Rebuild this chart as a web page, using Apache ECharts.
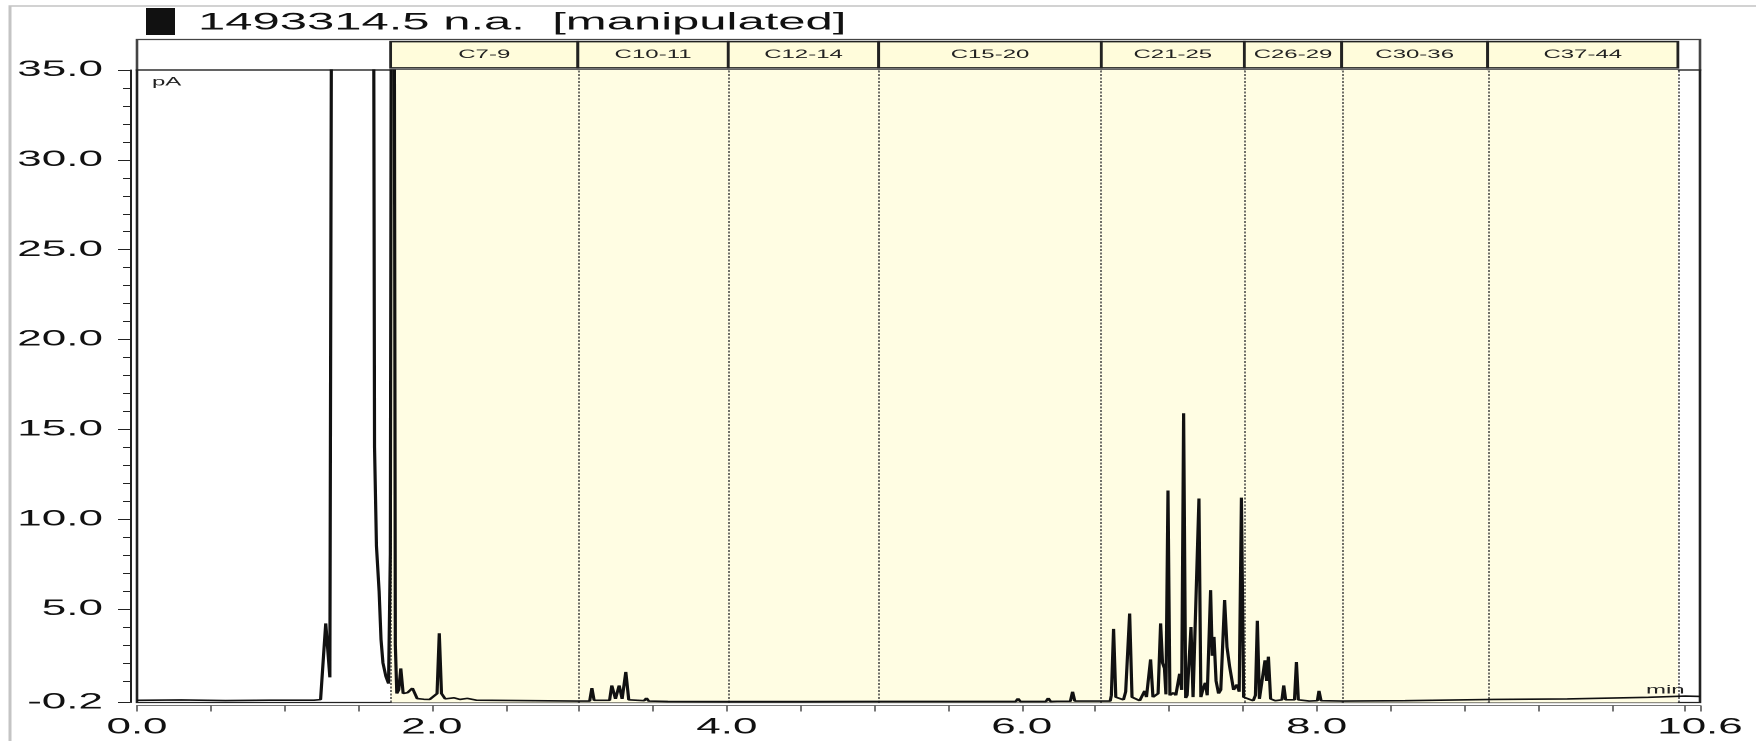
<!DOCTYPE html>
<html>
<head>
<meta charset="utf-8">
<script src="https://cdn.jsdelivr.net/npm/echarts@6/dist/echarts.min.js"></script>
<style>
html, body { margin: 0; padding: 0; background: #ffffff; overflow: hidden; }
#stage { width: 1756px; height: 741px; overflow: hidden; position: relative; background: #ffffff; }
#chart { width: 878px; height: 741px; transform: scaleX(2); transform-origin: 0 0; }
</style>
</head>
<body>
<div id="stage"><div id="chart"></div></div>
<script>
// ---------------- data ----------------
const TITLE_TEXT = '1493314.5 n.a.  [manipulated]';
const Y_UNIT = 'pA';
const X_UNIT = 'min';

// carbon-number windows (retention time edges, min)
const BAND_NAMES = ['C7-9', 'C10-11', 'C12-14', 'C15-20', 'C21-25', 'C26-29', 'C30-36', 'C37-44'];
const BAND_EDGES = [1.72, 2.99, 4.01, 5.03, 6.54, 7.51, 8.17, 9.16, 10.45];

// tick labels
const Y_TICK_VALUES = [-0.2, 5, 10, 15, 20, 25, 30, 35];
const X_LABEL_VALUES = [0, 2, 4, 6, 8, 10.6];

// chromatogram trace: retention time (min) and signal (pA)
const TIME = [
  0.00, 0.30, 0.60, 0.90, 1.20, 1.245, 1.265, 1.280, 1.295, 1.308,
  1.325, 1.40, 1.55, 1.600, 1.611, 1.624, 1.642, 1.655, 1.668, 1.688,
  1.706, 1.718, 1.735, 1.752, 1.762, 1.775, 1.789, 1.805, 1.835, 1.868,
  1.90, 1.945, 1.96, 1.985, 2.035, 2.050, 2.065, 2.09, 2.15, 2.19,
  2.24, 2.30, 2.60, 2.98, 3.07, 3.085, 3.10, 3.205, 3.220, 3.245,
  3.270, 3.290, 3.315, 3.335, 3.44, 3.455, 3.47, 3.60, 4.00, 4.50,
  5.00, 5.44, 5.45, 5.46, 5.75, 5.76, 5.77, 5.96, 5.975, 5.99,
  6.165, 6.18, 6.195, 6.24, 6.25, 6.26, 6.33, 6.345, 6.36, 6.44,
  6.45, 6.46, 6.60, 6.608, 6.623, 6.638, 6.690, 6.705, 6.715, 6.732,
  6.748, 6.800, 6.834, 6.846, 6.874, 6.890, 6.925, 6.942, 6.955, 6.968,
  6.978, 6.992, 7.005, 7.015, 7.030, 7.045, 7.071, 7.085, 7.098, 7.112,
  7.122, 7.148, 7.162, 7.172, 7.202, 7.215, 7.228, 7.245, 7.258, 7.281,
  7.292, 7.304, 7.318, 7.335, 7.350, 7.376, 7.392, 7.410, 7.437, 7.460,
  7.475, 7.490, 7.505, 7.530, 7.570, 7.585, 7.598, 7.612, 7.630, 7.650,
  7.661, 7.673, 7.688, 7.720, 7.765, 7.777, 7.790, 7.850, 7.863, 7.876,
  7.950, 8.005, 8.016, 8.030, 8.18, 8.60, 9.20, 9.70, 10.25, 10.50,
  10.60
];
const SIGNAL = [
  -0.08, -0.06, -0.09, -0.07, -0.07, -0.04, 2.4, 4.2, 2.6, 1.2,
  60, 95, 95, 60, 14, 8.5, 6.0, 3.3, 2.0, 1.25,
  0.85, 8, 90, 3, 0.3, 0.5, 1.7, 0.3, 0.35, 0.6,
  0.02, -0.02, 0.05, -0.03, 0.3, 3.65, 0.3, 0.0, 0.06, -0.03,
  0.03, -0.07, -0.09, -0.12, -0.12, 0.6, -0.08, -0.08, 0.75, 0.0,
  0.75, 0.0, 1.5, -0.05, -0.1, 0.05, -0.12, -0.14, -0.15, -0.15,
  -0.14, -0.14, -0.08, -0.14, -0.14, -0.07, -0.14, -0.14, 0.02, -0.14,
  -0.14, 0.04, -0.14, -0.13, -0.05, -0.13, -0.13, 0.4, -0.12, -0.12,
  -0.06, -0.12, -0.12, 0.2, 3.9, 0.1, -0.05, 0.4, 0.3, 4.75,
  0.1, -0.1, 0.45, 0.1, 2.2, 0.1, 0.3, 4.2, 2.0, 1.7,
  0.25, 11.6, 0.2, 0.15, 0.35, 0.2, 1.4, 0.5, 15.9, 0.05,
  0.2, 4.0, 0.1, 0.2, 11.15, 0.1, 0.5, 0.9, 0.2, 6.05,
  2.4, 3.45, 1.0, 0.3, 0.5, 5.5, 2.9, 1.8, 0.5, 0.8,
  0.4, 11.2, 0.1, 0.05, -0.1, 0.2, 4.35, 0.0, 0.05, 2.15,
  1.0, 2.35, 0.0, -0.1, -0.05, 0.75, -0.05, -0.05, 2.05, -0.05,
  -0.12, -0.1, 0.45, -0.1, -0.12, -0.1, -0.03, 0.0, 0.09, 0.16,
  0.14
];

// ---------------- chart ----------------
const FONT = '"Liberation Sans", Arial, Helvetica, sans-serif';
const chart = echarts.init(document.getElementById('chart'), null, { renderer: 'canvas', devicePixelRatio: 2 });

const trace = TIME.map((t, i) => [t, SIGNAL[i]]);
const bandAreas = BAND_NAMES.map((n, i) => [{ xAxis: BAND_EDGES[i] }, { xAxis: BAND_EDGES[i + 1] }]);
const headerBoxes = BAND_NAMES.map((n, i) => [
  { name: n, xAxis: BAND_EDGES[i], yAxis: 0.07 },
  { xAxis: BAND_EDGES[i + 1], yAxis: 0.93 }
]);
const dividers = BAND_EDGES.map(e => ({ xAxis: e }));
const xMax = X_LABEL_VALUES[X_LABEL_VALUES.length - 1];

const option = {
  animation: false,
  backgroundColor: '#ffffff',
  grid: [
    { left: 68.5, right: 28, top: 39.5, height: 30.5, show: true, borderColor: '#444', borderWidth: 1.3, backgroundColor: 'transparent' },
    { left: 68.5, right: 28, top: 70, bottom: 38.5, show: true, borderColor: '#222', borderWidth: 1.3, backgroundColor: 'transparent' }
  ],
  xAxis: [
    { gridIndex: 0, type: 'value', min: 0, max: xMax, show: false },
    {
      gridIndex: 1, type: 'value', min: 0, max: xMax, interval: 0.5, position: 'bottom', offset: 3,
      axisLine: { show: true, onZero: false, lineStyle: { color: '#777', width: 1 } },
      axisTick: { show: true, length: 6, lineStyle: { color: '#555', width: 0.8 } },
      axisLabel: {
        margin: 11, fontSize: 22, color: '#111', fontFamily: FONT,
        formatter: v => X_LABEL_VALUES.some(x => Math.abs(x - v) < 1e-6) ? v.toFixed(1) : ''
      },
      splitLine: { show: false }
    }
  ],
  yAxis: [
    { gridIndex: 0, type: 'value', min: 0, max: 1, show: false },
    {
      gridIndex: 1, type: 'value', min: Y_TICK_VALUES[0], max: Y_TICK_VALUES[Y_TICK_VALUES.length - 1],
      splitNumber: 7, offset: 3.5,
      axisLine: { show: true, onZero: false, lineStyle: { color: '#222', width: 1 } },
      axisTick: { show: true, length: 6, customValues: Y_TICK_VALUES, lineStyle: { color: '#222', width: 1 } },
      minorTick: { show: true, splitNumber: 5, length: 3.5, lineStyle: { color: '#222', width: 1 } },
      axisLabel: {
        customValues: Y_TICK_VALUES, margin: 13.5, fontSize: 22, color: '#111', fontFamily: FONT,
        formatter: v => Math.abs(v) < 1e-9 ? '' : v.toFixed(1)
      },
      splitLine: { show: false }
    }
  ],
  graphic: [
    { type: 'polyline', silent: true, z: 100, shape: { points: [[5, 741], [5, 6], [878, 6]] }, style: { stroke: '#c4c4c4', lineWidth: 1.5, fill: null } },
    { type: 'rect', silent: true, z: 100, shape: { x: 73, y: 8, width: 14.5, height: 27 }, style: { fill: '#111' } },
    { type: 'text', silent: true, z: 100, x: 99, y: 22.5, style: { text: TITLE_TEXT, fontSize: 24.5, fontFamily: FONT, fill: '#111', verticalAlign: 'middle' } },
    { type: 'text', silent: true, z: 100, x: 76, y: 76, style: { text: Y_UNIT, fontSize: 12, fontFamily: FONT, fill: '#222', verticalAlign: 'top' } },
    { type: 'text', silent: true, z: 100, x: 823, y: 684, style: { text: X_UNIT, fontSize: 12, fontFamily: FONT, fill: '#222', verticalAlign: 'top' } }
  ],
  series: [
    {
      type: 'line', xAxisIndex: 0, yAxisIndex: 0, data: [], silent: true,
      markArea: {
        silent: true,
        itemStyle: { color: '#FFFCDB', borderColor: '#222', borderWidth: 1.4 },
        label: { show: true, position: 'inside', color: '#222', fontSize: 12, fontFamily: FONT, formatter: '{b}' },
        data: headerBoxes
      }
    },
    {
      type: 'line', xAxisIndex: 1, yAxisIndex: 1, data: trace, showSymbol: false, symbol: 'none', clip: true,
      lineStyle: { color: '#111', width: 1.6 }, z: 5, silent: true,
      markArea: { silent: true, itemStyle: { color: '#FFFDE3' }, data: bandAreas },
      markLine: {
        silent: true, symbol: 'none', label: { show: false },
        lineStyle: { type: [2, 1.5], color: '#333', width: 0.7 },
        data: dividers
      }
    }
  ]
};
chart.setOption(option);
</script>
</body>
</html>
